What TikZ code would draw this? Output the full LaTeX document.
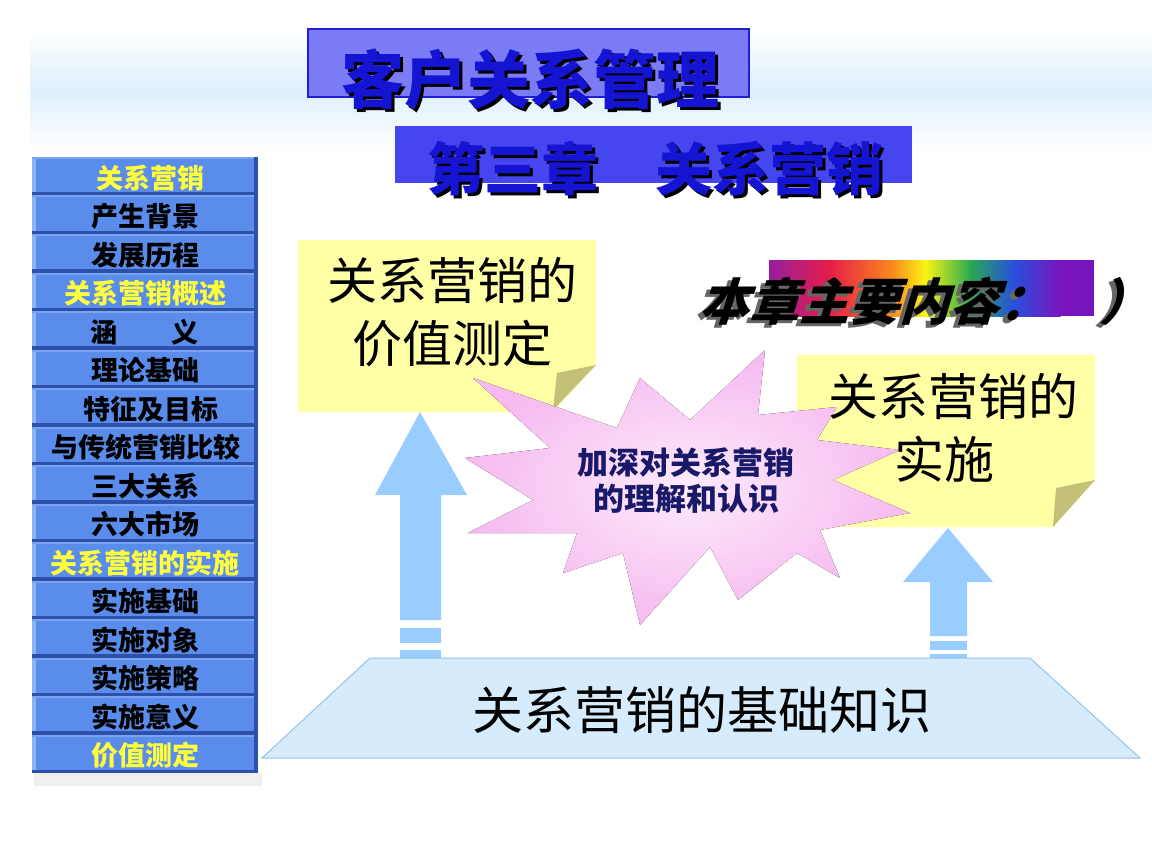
\documentclass[tikz,border=0pt]{standalone}
\usepackage{fontspec}
\newfontfamily\cjk{Noto Sans CJK SC}
\newfontfamily\cjkit{Noto Sans CJK SC}[FakeSlant=0.3]
\definecolor{menublue}{RGB}{90,140,235}
\definecolor{menulight}{RGB}{140,180,245}
\definecolor{menudark}{RGB}{45,80,170}
\definecolor{menuyellow}{RGB}{255,255,60}
\definecolor{titlefill}{RGB}{123,123,245}
\definecolor{titledraw}{RGB}{30,30,215}
\definecolor{subfill}{RGB}{70,70,240}
\definecolor{textblue}{RGB}{20,20,210}
\definecolor{noteyellow}{RGB}{255,255,165}
\definecolor{flapcol}{RGB}{196,192,122}
\definecolor{arrowblue}{RGB}{153,204,255}
\definecolor{trapfill}{RGB}{214,235,251}
\definecolor{trapdraw}{RGB}{150,195,235}
\definecolor{starpink}{RGB}{246,186,240}
\definecolor{starlight}{RGB}{253,235,251}
\definecolor{navy}{RGB}{25,25,105}
\definecolor{haze}{RGB}{222,240,251}
\definecolor{rbA}{RGB}{150,30,160}
\definecolor{rbRed}{RGB}{230,30,70}
\definecolor{rbOrange}{RGB}{250,140,30}
\definecolor{rbYellow}{RGB}{250,245,20}
\definecolor{rbGreen}{RGB}{40,170,80}
\definecolor{rbBlue}{RGB}{40,80,220}
\definecolor{rbPurple}{RGB}{120,20,190}
\newcommand\shtext[5]{\makebox[0pt][l]{\hspace*{#1}\raisebox{-#2}{\textcolor{#3}{#5}}}\textcolor{#4}{#5}}
\tikzset{
  menutext/.style={font=\cjk\bfseries\fontsize{27}{30}\selectfont, inner sep=0pt},
  notetext/.style={font=\cjk\fontsize{50}{63}\selectfont, align=center, inner sep=0pt, text=black},
  titletext/.style={font=\cjk\bfseries\fontsize{63}{66}\selectfont, inner sep=0pt},
  subtext/.style={font=\cjk\bfseries\fontsize{57}{60}\selectfont, inner sep=0pt},
  notebox/.style={fill=noteyellow},
  flapstyle/.style={fill=flapcol},
  arrowshape/.style={fill=arrowblue},
}
\begin{document}
\begin{tikzpicture}[x=1pt,y=-1pt]
\useasboundingbox (0,0) rectangle (1152,864);
\fill[white] (0,0) rectangle (1152,864);
% background haze
\fill[top color=white, bottom color=white, middle color=haze] (30,28) rectangle (1152,152);
% title boxes
\draw[fill=titlefill, draw=titledraw, line width=2pt] (308,29) rectangle (749,97);
\fill[subfill] (395,126) rectangle (912,183);
\node[titletext] (title) at (530,81) {\shtext{3.5pt}{3.5pt}{black}{textblue}{客户关系管理}};
\node[subtext] (sub) at (655,170) {\shtext{3.5pt}{3.5pt}{black}{textblue}{第三章　关系营销}};
% left menu
\fill[black!6] (34,773) rectangle (262,786);
\foreach \i/\t/\c/\xx in {0/关系营销/menuyellow/150, 1/产生背景/black/145, 2/发展历程/black/145, 3/关系营销概述/menuyellow/145, 4/涵　　义/black/144, 5/理论基础/black/145, 6/特征及目标/black/151, 7/与传统营销比较/black/146, 8/三大关系/black/145, 9/六大市场/black/145, 10/关系营销的实施/menuyellow/145, 11/实施基础/black/145, 12/实施对象/black/145, 13/实施策略/black/145, 14/实施意义/black/145, 15/价值测定/menuyellow/145} {
  \pgfmathsetmacro\top{157+38.5*\i}
  \fill[menublue] (32,\top) rectangle (258,\top+38.5);
  \fill[menulight] (32,\top) rectangle (36,\top+38.5);
  \fill[menulight!60!menublue] (32,\top) rectangle (258,\top+2);
  \fill[menudark] (254,\top) rectangle (258,\top+38.5);
  \fill[menudark] (32,\top+35) -- (258,\top+35) -- (258,\top+38.5) -- (32,\top+38.5) -- cycle;
  \node[menutext, text=\c] (m\i) at (\xx,\top+21) {\t};
}
% note 1
\fill[notebox] (298,240) -- (596,240) -- (596,365) -- (553,412) -- (298,412) -- cycle;
\fill[flapstyle] (596,365) -- (557,373) -- (553,410) -- cycle;
% note 2
\fill[notebox] (797,355) -- (1095,355) -- (1095,480) -- (1053,527) -- (797,527) -- cycle;
\fill[flapstyle] (1095,480) -- (1056,488) -- (1053,527) -- cycle;
% rainbow bar
\shade[left color=rbA, right color=rbRed] (769,260) rectangle (830.5,316);
\shade[left color=rbRed, right color=rbOrange] (830,260) rectangle (893.5,316);
\shade[left color=rbOrange, right color=rbYellow] (893,260) rectangle (925.5,316);
\shade[left color=rbYellow, right color=rbGreen] (925,260) rectangle (970.5,316);
\shade[left color=rbGreen, right color=rbBlue] (970,260) rectangle (1013.5,316);
\shade[left color=rbBlue, right color=rbPurple] (1013,260) rectangle (1060.5,316);
\fill[rbPurple] (1060,260) rectangle (1094,316);
% arrows
\fill[arrowshape] (420,412) -- (467,495) -- (441,495) -- (441,620) -- (400,620) -- (400,495) -- (375,495) -- cycle;
\fill[arrowshape] (400,628) rectangle (441,643);
\fill[arrowshape] (400,650) rectangle (441,660);
\fill[arrowshape] (948,528) -- (993,582) -- (967,582) -- (967,636) -- (930,636) -- (930,582) -- (903,582) -- cycle;
\fill[arrowshape] (930,641) rectangle (967,650);
\fill[arrowshape] (930,654) rectangle (967,660);
% trapezoid
\draw[fill=trapfill, draw=trapdraw, line width=1pt] (370,658) -- (1030,658) -- (1140,758) -- (262,758) -- cycle;
\node[notetext, font=\cjk\fontsize{51}{54}\selectfont] (base) at (702,710) {关系营销的基础知识};
% star
\fill[inner color=starlight, outer color=starpink] (473,378) -- (617,428) -- (640,378) -- (690,420) -- (765,350) -- (758,415) -- (837,407) -- (817,440) -- (900,450) -- (833,480) -- (910,513) -- (820,530) -- (840,578) -- (797,553) -- (738,600) -- (710,547) -- (640,625) -- (623,553) -- (563,573) -- (577,533) -- (468,533) -- (533,500) -- (465,458) -- (550,448) -- cycle;
\node[font=\cjk\bfseries\fontsize{31}{36}\selectfont, text=navy, align=center, inner sep=0pt] (startext) at (686,481) {加深对关系营销\\的理解和认识};
% note texts
\node[notetext] (note1) at (452,312) {关系营销的\\价值测定};
\node[notetext] (note2) at (953,428) {关系营销的\\实施\hspace*{0.35em}};
% heading
\node[font=\cjkit\bfseries\fontsize{50}{54}\selectfont, inner sep=0pt] (head) at (922,303) {\hspace*{5pt}\shtext{-5pt}{3pt}{black!60}{black}{本章主要内容：　）}};
\end{tikzpicture}
\end{document}
